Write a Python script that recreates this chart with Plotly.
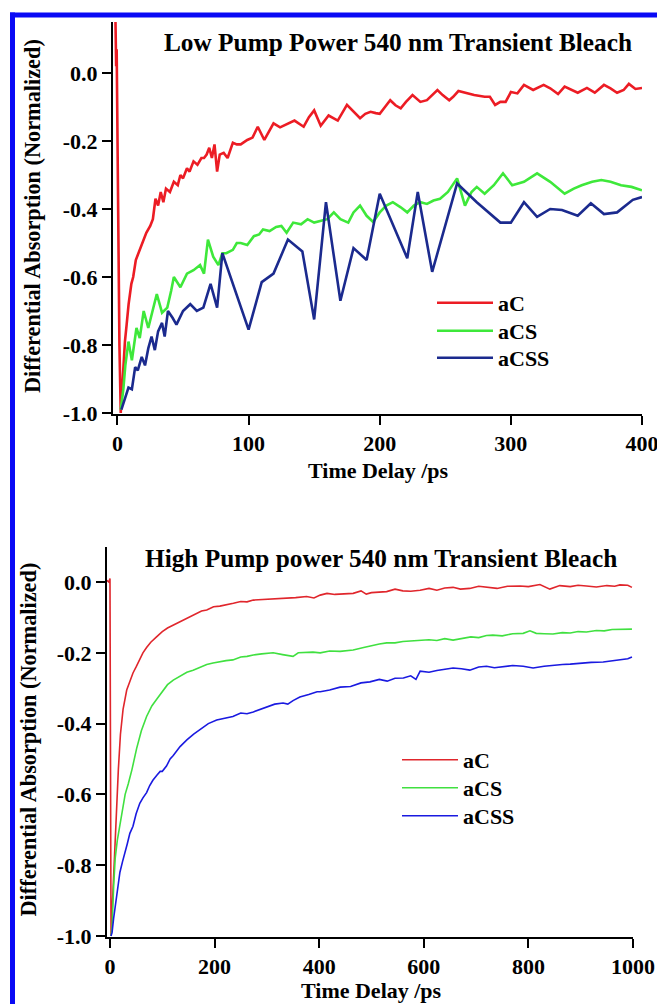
import plotly.graph_objects as go

W, H = 657, 1004

# ---------------- data: top panel (low pump power) ----------------
low_aC_t = [-1.5, -1, -0.6, -0.3, 0, 0.5, 1.5, 2.5, 4, 5.7, 7, 8.5, 10.6, 12, 14, 17, 19.7, 22, 25, 27,
            29, 31, 33, 35, 37, 40, 43, 46, 48, 50, 53, 55, 58, 61, 64, 66, 68, 70, 72, 74, 76, 78, 81,
            84, 88, 91, 94, 99, 103, 107, 112, 116, 119, 124, 130, 135, 142, 146, 150, 155, 161, 168,
            175, 180, 185, 189, 193, 197, 200, 204, 208, 212, 216, 220, 225, 231, 236, 244, 248, 253,
            256, 260, 266, 272, 280, 284, 288, 292, 296, 300, 305, 310, 317, 325, 330, 336, 341, 346,
            351, 358, 364, 371, 376, 381, 386, 390, 395, 400]
low_aC_v = [0.15, 0.02, 0.07, -0.08, 0.05, -0.3, -0.8, -1.0, -0.9, -0.79, -0.74, -0.68, -0.62, -0.6,
            -0.55, -0.52, -0.49, -0.47, -0.45, -0.43, -0.37, -0.39, -0.35, -0.38, -0.34, -0.35, -0.32,
            -0.33, -0.30, -0.31, -0.28, -0.29, -0.26, -0.27, -0.25, -0.25, -0.24, -0.22, -0.25, -0.21,
            -0.29, -0.24, -0.235, -0.25, -0.205, -0.21, -0.21, -0.197, -0.19, -0.158, -0.197, -0.17,
            -0.148, -0.16, -0.148, -0.14, -0.158, -0.13, -0.11, -0.155, -0.125, -0.14, -0.094, -0.115,
            -0.133, -0.12, -0.114, -0.118, -0.12, -0.10, -0.08, -0.095, -0.104, -0.085, -0.065, -0.085,
            -0.08, -0.05, -0.065, -0.08, -0.07, -0.053, -0.06, -0.065, -0.07, -0.07, -0.094, -0.085,
            -0.085, -0.056, -0.06, -0.035, -0.05, -0.035, -0.045, -0.062, -0.04, -0.05, -0.058, -0.044,
            -0.058, -0.035, -0.045, -0.058, -0.05, -0.032, -0.047, -0.044]

low_aCS_t = [2.5, 4.5, 6, 8.4, 11, 13, 14.5, 17, 20, 23.5, 27, 30, 34, 38, 41, 43, 48, 53, 58, 63, 66,
             69, 73, 77, 80, 83, 88, 91, 94, 99, 104, 108, 111, 116, 121, 125, 129, 134, 140, 145, 150,
             155, 160, 165, 170, 176, 180, 185, 190, 195, 200, 205, 210, 216, 221, 226, 231, 236, 241,
             246, 252, 259, 265, 270, 274, 280, 287, 294, 301, 310, 320, 330, 341, 348, 354, 362, 369,
             376, 384, 392, 400]
low_aCS_v = [-0.99, -0.93, -0.86, -0.79, -0.845, -0.78, -0.75, -0.78, -0.70, -0.75, -0.70, -0.65, -0.705,
             -0.69, -0.64, -0.60, -0.63, -0.59, -0.58, -0.565, -0.59, -0.49, -0.54, -0.565, -0.53, -0.53,
             -0.52, -0.50, -0.50, -0.506, -0.48, -0.475, -0.46, -0.465, -0.453, -0.45, -0.47, -0.44,
             -0.445, -0.43, -0.44, -0.435, -0.43, -0.41, -0.43, -0.44, -0.41, -0.39, -0.42, -0.438,
             -0.41, -0.39, -0.38, -0.395, -0.41, -0.39, -0.38, -0.385, -0.375, -0.37, -0.35, -0.31,
             -0.39, -0.35, -0.335, -0.355, -0.33, -0.295, -0.33, -0.32, -0.295, -0.32, -0.355, -0.34,
             -0.33, -0.32, -0.315, -0.32, -0.33, -0.335, -0.345]

low_aCSS_t = [3, 4.5, 6, 8.4, 11, 13.5, 15.5, 18.5, 21, 23.5, 26, 28.5, 31, 34, 36, 38.5, 42, 45, 50,
              55.5, 60.5, 65.5, 71, 76, 80, 100, 110, 119, 130, 141, 150, 159, 170, 180, 190, 200, 221,
              229, 240, 259, 274, 292, 300, 310, 320, 330, 339, 351, 361, 371, 381, 393, 400]
low_aCSS_v = [-0.99, -0.97, -0.95, -0.925, -0.93, -0.865, -0.875, -0.835, -0.86, -0.81, -0.775, -0.815,
              -0.76, -0.735, -0.775, -0.70, -0.72, -0.74, -0.70, -0.68, -0.70, -0.69, -0.62, -0.69, -0.53,
              -0.755, -0.615, -0.59, -0.49, -0.525, -0.725, -0.38, -0.67, -0.515, -0.55, -0.355, -0.545,
              -0.35, -0.585, -0.325, -0.38, -0.44, -0.44, -0.38, -0.423, -0.40, -0.403, -0.42, -0.383,
              -0.415, -0.41, -0.373, -0.365]

# ---------------- data: bottom panel (high pump power) ----------------
high_aC_t = [-6, -2, 0, 1, 2, 4, 6, 8, 10, 13, 16, 20, 25, 32, 38, 44, 50, 57, 63, 70, 78, 89, 100, 110,
             121, 132, 143, 153, 165, 175, 185, 198, 210, 223, 236, 250, 262, 274, 290, 305, 325, 340,
             355, 376, 390, 402, 415, 430, 448, 465, 480, 490, 500, 515, 529, 545, 560, 575, 593, 610,
             625, 640, 656, 670, 688, 705, 720, 740, 760, 784, 800, 822, 841, 860, 880, 895, 911, 930,
             950, 965, 975, 990, 998]
high_aC_v = [0.005, 0.0, 0.01, -0.5, -1.0, -0.93, -0.86, -0.78, -0.70, -0.62, -0.53, -0.43, -0.36,
             -0.305, -0.28, -0.257, -0.24, -0.22, -0.20, -0.185, -0.17, -0.155, -0.14, -0.13, -0.122,
             -0.115, -0.105, -0.098, -0.09, -0.082, -0.079, -0.07, -0.068, -0.065, -0.06, -0.055,
             -0.056, -0.051, -0.05, -0.048, -0.046, -0.047, -0.044, -0.041, -0.045, -0.037, -0.032,
             -0.035, -0.033, -0.032, -0.025, -0.034, -0.03, -0.028, -0.027, -0.02, -0.025, -0.026,
             -0.023, -0.018, -0.023, -0.017, -0.015, -0.02, -0.018, -0.012, -0.015, -0.018, -0.012,
             -0.011, -0.013, -0.007, -0.02, -0.01, -0.013, -0.009, -0.011, -0.014, -0.01, -0.012,
             -0.008, -0.009, -0.015]

high_aCS_t = [2, 4, 7, 10, 14, 19, 24, 29, 35, 42, 51, 60, 70, 80, 90, 100, 110, 121, 135, 147, 159,
              172, 185, 197, 210, 222, 235, 250, 262, 274, 290, 312, 330, 350, 360, 375, 388, 402, 420,
              440, 465, 485, 503, 515, 529, 545, 560, 575, 593, 610, 625, 640, 656, 675, 690, 705, 720,
              732, 750, 770, 790, 803, 815, 830, 847, 865, 880, 895, 911, 930, 945, 960, 975, 990, 998]
high_aCS_v = [-1.0, -0.975, -0.86, -0.78, -0.73, -0.69, -0.64, -0.60, -0.57, -0.53, -0.47, -0.42,
              -0.38, -0.35, -0.33, -0.31, -0.29, -0.277, -0.265, -0.255, -0.249, -0.24, -0.233, -0.229,
              -0.225, -0.222, -0.22, -0.212, -0.21, -0.206, -0.203, -0.20, -0.205, -0.21, -0.20, -0.198,
              -0.198, -0.20, -0.195, -0.196, -0.192, -0.185, -0.178, -0.175, -0.172, -0.172, -0.168,
              -0.167, -0.164, -0.163, -0.165, -0.16, -0.164, -0.158, -0.155, -0.157, -0.151, -0.15,
              -0.152, -0.146, -0.145, -0.138, -0.145, -0.146, -0.147, -0.143, -0.144, -0.14, -0.141,
              -0.137, -0.138, -0.134, -0.133, -0.134, -0.133]

high_aCSS_t = [2, 4, 7, 10, 14, 19, 24, 29, 33, 38, 44, 50, 57, 63, 70, 76, 82, 90, 96, 100, 108, 115,
               121, 134, 147, 160, 172, 188, 204, 220, 235, 250, 262, 274, 287, 300, 315, 331, 340, 350,
               363, 380, 396, 402, 420, 440, 460, 480, 497, 515, 530, 545, 561, 575, 585, 593, 610, 625,
               640, 656, 672, 688, 705, 720, 735, 752, 770, 790, 809, 830, 847, 865, 880, 899, 920, 943,
               960, 975, 990, 998]
high_aCSS_v = [-1.0, -0.99, -0.95, -0.92, -0.87, -0.82, -0.79, -0.765, -0.74, -0.71, -0.69, -0.655,
               -0.625, -0.61, -0.595, -0.575, -0.56, -0.545, -0.535, -0.535, -0.52, -0.50, -0.49,
               -0.465, -0.446, -0.43, -0.418, -0.40, -0.39, -0.385, -0.38, -0.37, -0.372, -0.367,
               -0.36, -0.353, -0.345, -0.342, -0.345, -0.335, -0.325, -0.318, -0.31, -0.31, -0.305,
               -0.297, -0.295, -0.285, -0.282, -0.275, -0.28, -0.272, -0.271, -0.265, -0.275, -0.252,
               -0.255, -0.25, -0.246, -0.243, -0.245, -0.249, -0.24, -0.238, -0.242, -0.24, -0.236,
               -0.238, -0.243, -0.238, -0.235, -0.233, -0.232, -0.229, -0.227, -0.226, -0.223, -0.22,
               -0.217, -0.212]

series_names = ["aC", "aCS", "aCSS"]
y_tickvals = [-1.0, -0.8, -0.6, -0.4, -0.2, 0.0]
y_ticktext = ["-1.0", "-0.8", "-0.6", "-0.4", "-0.2", "0.0"]
x_top_tickvals = [0, 100, 200, 300, 400]
x_top_ticktext = ["0", "100", "200", "300", "400"]
x_bot_tickvals = [0, 200, 400, 600, 800, 1000]
x_bot_ticktext = ["0", "200", "400", "600", "800", "1000"]

top_titles = ["Low Pump Power 540 nm Transient Bleach", "High Pump power 540 nm Transient Bleach"]
x_title = "Time Delay /ps"
y_title = "Differential Absorption (Normalized)"

top_colors = ["#ec1c24", "#3ee83a", "#1b2a8e"]
bot_colors = ["#e0262c", "#40e040", "#1a1ae0"]

FONT = "Liberation Serif"

def px_x(p):
    return p / W

def px_y(p):
    return 1 - p / H

def bold(labels):
    return [f"<b>{s}</b>" for s in labels]

fig = go.Figure()

top_data = [(low_aC_t, low_aC_v), (low_aCS_t, low_aCS_v), (low_aCSS_t, low_aCSS_v)]
bot_data = [(high_aC_t, high_aC_v), (high_aCS_t, high_aCS_v), (high_aCSS_t, high_aCSS_v)]

# each legend entry gets its own legend box so rows can be placed like the original
top_leg_rows = [303, 331, 358]
bot_leg_rows = [760, 788, 816]
legend_font = dict(family=FONT, size=22, color="black")
legend_layout = {}
k = 1
for (t, v), name, col, row in zip(top_data, series_names, top_colors, top_leg_rows):
    lid = "legend" if k == 1 else f"legend{k}"
    fig.add_trace(go.Scatter(x=t, y=v, mode="lines", name=f"<b>{name}</b>",
                             line=dict(color=col, width=2.6),
                             xaxis="x", yaxis="y", legend=lid))
    legend_layout[lid] = dict(x=px_x(432), y=px_y(row), xanchor="left", yanchor="middle",
                              bgcolor="rgba(0,0,0,0)", font=legend_font, itemwidth=56)
    k += 1
for (t, v), name, col, row in zip(bot_data, series_names, bot_colors, bot_leg_rows):
    lid = f"legend{k}"
    fig.add_trace(go.Scatter(x=t, y=v, mode="lines", name=f"<b>{name}</b>",
                             line=dict(color=col, width=1.6),
                             xaxis="x2", yaxis="y2", legend=lid))
    legend_layout[lid] = dict(x=px_x(397), y=px_y(row), xanchor="left", yanchor="middle",
                              bgcolor="rgba(0,0,0,0)", font=legend_font, itemwidth=56)
    k += 1

axis_common = dict(showline=True, linecolor="black", linewidth=2, ticks="outside", ticklen=9,
                   tickwidth=2, tickcolor="black", showgrid=False, zeroline=False, automargin=False,
                   ticklabeloverflow="allow", tickmode="array",
                   tickfont=dict(family=FONT, size=22, color="black"))

fig.update_layout(
    width=W, height=H, margin=dict(l=0, r=0, t=0, b=0),
    paper_bgcolor="white", plot_bgcolor="white",
    font=dict(family=FONT, color="black"),
    xaxis=dict(domain=[px_x(113), px_x(642)], range=[-3.4, 400], tickvals=x_top_tickvals,
               ticktext=bold(x_top_ticktext), anchor="y", **axis_common),
    yaxis=dict(domain=[px_y(414), px_y(22)], range=[-1.003, 0.15], tickvals=y_tickvals,
               ticktext=bold(y_ticktext), anchor="x", **axis_common),
    xaxis2=dict(domain=[px_x(107), px_x(633)], range=[-5.7, 1000], tickvals=x_bot_tickvals,
                ticktext=bold(x_bot_ticktext), anchor="y2", **axis_common),
    yaxis2=dict(domain=[px_y(937), px_y(547)], range=[-1.003, 0.099], tickvals=y_tickvals,
                ticktext=bold(y_ticktext), anchor="x2", **axis_common),
    showlegend=True,
    **legend_layout,
)

ann_font = dict(family=FONT, color="black")
annotations = [
    dict(text=top_titles[0], x=px_x(397.5), y=px_y(42), font=dict(size=25.3, **ann_font)),
    dict(text=top_titles[1], x=px_x(381), y=px_y(558), font=dict(size=25.3, **ann_font)),
    dict(text=x_title, x=px_x(378), y=px_y(470), font=dict(size=22, **ann_font)),
    dict(text=x_title, x=px_x(371), y=px_y(990), font=dict(size=22, **ann_font)),
    dict(text=y_title, x=px_x(32), y=px_y(216), textangle=-90, font=dict(size=22.3, **ann_font)),
    dict(text=y_title, x=px_x(27.5), y=px_y(740), textangle=-90, font=dict(size=22.3, **ann_font)),
]
for a in annotations:
    a["text"] = f"<b>{a['text']}</b>"
    a.update(xref="paper", yref="paper", showarrow=False, xanchor="center", yanchor="middle")
fig.update_layout(annotations=annotations)

# blue frame along top and left edges
frame = dict(type="line", xref="paper", yref="paper", line=dict(color="#0a0af5", width=5))
fig.add_shape(**frame, x0=px_x(12.5), x1=px_x(12.5), y0=0, y1=px_y(12.5))
fig.add_shape(**frame, x0=px_x(10), x1=1, y0=px_y(15), y1=px_y(15))

fig.write_html("out.html")
